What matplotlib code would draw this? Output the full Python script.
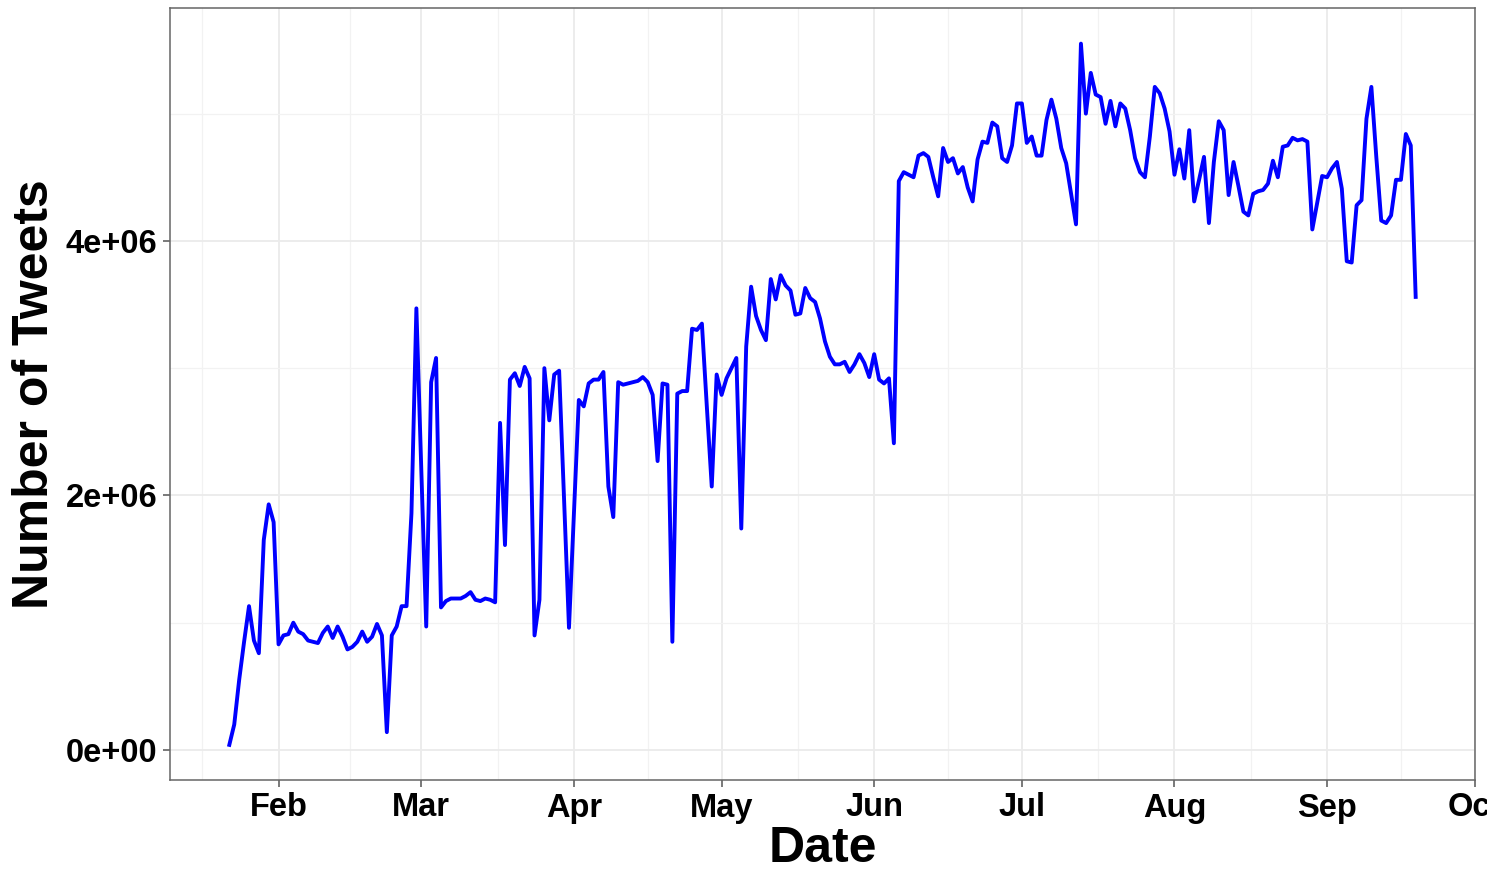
import datetime as dt
import numpy as np
import matplotlib
matplotlib.use("Agg")
import matplotlib.pyplot as plt
import matplotlib.dates as mdates
from matplotlib.transforms import Bbox, TransformedBbox, IdentityTransform

plt.rcParams['font.family'] = ['Liberation Sans', 'DejaVu Sans']

# ---- data (daily tweet counts, millions) ----
start_date = "2020-01-22"
tweets_millions = [
    0.04, 0.20, 0.55, 0.85, 1.13, 0.86, 0.76, 1.65, 1.93, 1.79,
    0.83, 0.90, 0.91, 1.00, 0.93, 0.91, 0.86, 0.85, 0.84, 0.92,
    0.97, 0.88, 0.97, 0.89, 0.79, 0.81, 0.85, 0.93, 0.85, 0.89,
    0.99, 0.90, 0.14, 0.90, 0.97, 1.13, 1.13, 1.86, 3.47, 2.20,
    0.97, 2.89, 3.08, 1.12, 1.17, 1.19, 1.19, 1.19, 1.21, 1.24,
    1.18, 1.17, 1.19, 1.18, 1.16, 2.57, 1.61, 2.91, 2.96, 2.86,
    3.01, 2.92, 0.90, 1.18, 3.00, 2.59, 2.95, 2.98, 1.97, 0.96,
    1.85, 2.75, 2.70, 2.88, 2.91, 2.91, 2.97, 2.07, 1.83, 2.89,
    2.87, 2.88, 2.89, 2.90, 2.93, 2.89, 2.79, 2.27, 2.88, 2.87,
    0.85, 2.80, 2.82, 2.82, 3.31, 3.30, 3.35, 2.70, 2.07, 2.95,
    2.79, 2.92, 3.00, 3.08, 1.74, 3.17, 3.64, 3.41, 3.30, 3.22,
    3.70, 3.54, 3.73, 3.65, 3.61, 3.42, 3.43, 3.63, 3.55, 3.52,
    3.39, 3.21, 3.09, 3.03, 3.03, 3.05, 2.97, 3.03, 3.11, 3.04,
    2.93, 3.11, 2.91, 2.88, 2.92, 2.41, 4.47, 4.54, 4.52, 4.50,
    4.67, 4.69, 4.66, 4.50, 4.35, 4.73, 4.62, 4.65, 4.53, 4.58,
    4.42, 4.31, 4.64, 4.78, 4.77, 4.93, 4.90, 4.65, 4.62, 4.75,
    5.08, 5.08, 4.77, 4.82, 4.67, 4.67, 4.95, 5.11, 4.96, 4.73,
    4.61, 4.37, 4.13, 5.55, 5.00, 5.32, 5.15, 5.13, 4.92, 5.10,
    4.90, 5.08, 5.04, 4.87, 4.65, 4.54, 4.50, 4.82, 5.21, 5.16,
    5.04, 4.86, 4.52, 4.72, 4.49, 4.87, 4.31, 4.48, 4.66, 4.14,
    4.62, 4.94, 4.87, 4.36, 4.62, 4.43, 4.23, 4.20, 4.37, 4.39,
    4.40, 4.45, 4.63, 4.50, 4.74, 4.75, 4.81, 4.79, 4.80, 4.78,
    4.09, 4.30, 4.51, 4.50, 4.57, 4.62, 4.41, 3.84, 3.83, 4.28,
    4.32, 4.96, 5.21, 4.66, 4.16, 4.14, 4.20, 4.48, 4.48, 4.84,
    4.75, 3.56,
]
y_ticks = [0, 2e6, 4e6]
y_tick_labels = ["0e+00", "2e+06", "4e+06"]
month_labels = ["Feb", "Mar", "Apr", "May", "Jun", "Jul", "Aug", "Sep", "Oct"]

d0 = dt.datetime.strptime(start_date, "%Y-%m-%d")
dates = [d0 + dt.timedelta(days=i) for i in range(len(tweets_millions))]
values = np.array(tweets_millions) * 1e6

W, H = 1508, 874
fig = plt.figure(figsize=(W / 100, H / 100), dpi=100)
ax = fig.add_axes([170 / W, (H - 780) / H, (1475 - 170) / W, (780 - 8) / H])

ax.plot(dates, values, color="#0000FF", lw=2.8, solid_joinstyle="round", zorder=3)

# limits (ggplot-like 5% expansion)
xn = mdates.date2num(dates)
span = xn[-1] - xn[0]
ax.set_xlim(xn[0] - 0.05 * span, xn[-1] + 0.05 * span)
ax.set_ylim(-0.236e6, 5.83e6)

# ticks
month_starts = [dt.datetime(2020, m, 1) for m in range(2, 11)]
major_x = mdates.date2num(month_starts)
ax.set_xticks(major_x)
ax.set_xticklabels(month_labels)
all_major = np.concatenate([[mdates.date2num(dt.datetime(2020, 1, 1))], major_x])
minor_x = (all_major[:-1] + all_major[1:]) / 2
ax.set_xticks(minor_x, minor=True)
ax.set_yticks(y_ticks)
ax.set_yticklabels(y_tick_labels)
ax.set_yticks([1e6, 3e6, 5e6], minor=True)

ax.grid(which="major", color="#EBEBEB", lw=1.3, zorder=0)
ax.grid(which="minor", color="#F2F2F2", lw=0.9, zorder=0)
ax.set_axisbelow(True)

for s in ax.spines.values():
    s.set_color("#666666")
    s.set_linewidth(1.1)

ax.tick_params(axis="both", which="major", length=5, width=1.1, color="#555555",
               labelsize=23.5, labelcolor="black", pad=4)
ax.tick_params(axis="both", which="minor", length=0)
for lab in ax.get_xticklabels() + ax.get_yticklabels():
    lab.set_fontweight("bold")

ax.set_xlabel("Date", fontsize=36, fontweight="bold", labelpad=2)
ax.set_ylabel("Number of Tweets", fontsize=36, fontweight="bold", labelpad=6)

# clip the last x label at the right as in the reference
clip = TransformedBbox(Bbox([[0, 0], [1487, H]]), IdentityTransform())
for lab in ax.get_xticklabels():
    lab.set_clip_box(clip)
    lab.set_clip_on(True)

fig.savefig("out.png", dpi=100, facecolor="white")
